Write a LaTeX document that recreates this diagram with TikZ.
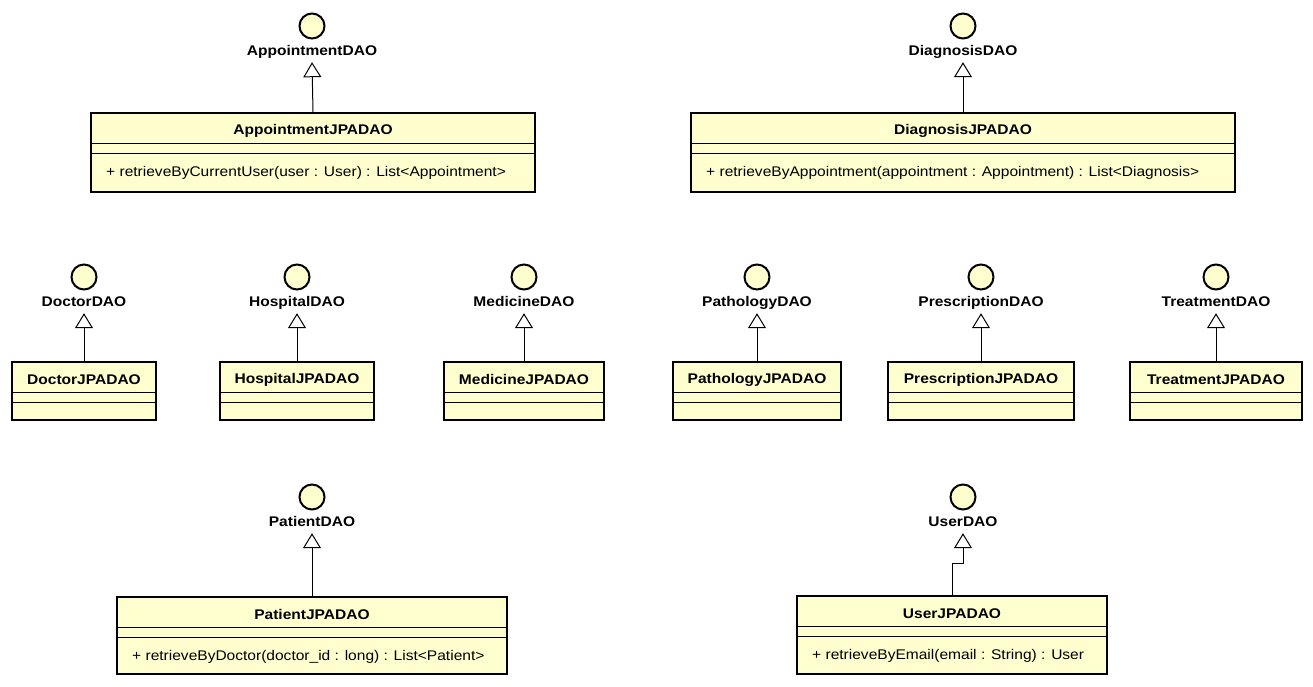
\documentclass[tikz,border=0pt]{standalone}
\usepackage{fontspec}
\setmainfont{Liberation Sans}[FakeStretch=1.11]
\usetikzlibrary{arrows.meta}
\definecolor{umlfill}{HTML}{FEFECE}
\tikzset{
  clsbox/.style={draw=black, fill=umlfill, line width=2.5pt, inner sep=0pt, rectangle},
  ifcircle/.style={draw=black, fill=umlfill, line width=2pt, circle, inner sep=0pt, minimum size=25pt},
  iflabel/.style={font=\fontsize{14}{16}\selectfont\bfseries, inner xsep=0pt, inner ysep=3.5pt, text height=10pt, text depth=3pt},
  clstitle/.style={font=\fontsize{14}{16}\selectfont\bfseries, inner sep=0pt},
  clsmethod/.style={font=\fontsize{14}{16}\selectfont, inner sep=0pt, anchor=west},
  sepline/.style={line width=1pt, draw=black},
  realize/.style={line width=1pt, -{Triangle[open, length=15pt, width=18pt, line width=1pt, fill=white]}},
}
% #1 name, #2 x, #3 circle y, #4 label
\newcommand{\ifacenode}[4]{%
  \node[ifcircle] (#1c) at (#2,#3) {};
  \node[iflabel] (#1) at (#2,#3+26) {#4};
}
% #1 name, #2 left, #3 top, #4 right, #5 bottom, #6 title, #7 method
\newcommand{\jpaclass}[7]{%
  \node[clsbox, minimum width={(#4-#2)*1pt}, minimum height={(#5-#3)*1pt}] (#1) at ({(#2+#4)/2},{(#3+#5)/2}) {};
  \draw[sepline] ([yshift=-32pt]#1.north west) -- ([yshift=-32pt]#1.north east);
  \draw[sepline] ([yshift=-42pt]#1.north west) -- ([yshift=-42pt]#1.north east);
  \node[clstitle] (#1t) at ({(#2+#4)/2},#3+17.5) {#6};
  \node[clsmethod] (#1m) at (#2+15,#3+60) {#7};
}
\begin{document}
\begin{tikzpicture}[x=1pt,y=-1pt]
\useasboundingbox[fill=white] (0,0) rectangle (1313,686);
% row 1
\ifacenode{appI}{312}{26}{AppointmentDAO}
\jpaclass{appC}{91}{113}{535}{192}{AppointmentJPADAO}{+ retrieveByCurrentUser(user : User) : List<Appointment>}
\ifacenode{diaI}{963}{26}{DiagnosisDAO}
\jpaclass{diaC}{691}{113}{1235}{192}{DiagnosisJPADAO}{+ retrieveByAppointment(appointment : Appointment) : List<Diagnosis>}
% row 2
\ifacenode{docI}{84}{277}{DoctorDAO}
\jpaclass{docC}{12}{362}{156}{420}{DoctorJPADAO}{}
\ifacenode{hosI}{297}{277}{HospitalDAO}
\jpaclass{hosC}{220}{362}{374}{420}{HospitalJPADAO}{}
\ifacenode{medI}{524}{277}{MedicineDAO}
\jpaclass{medC}{444}{362}{604}{420}{MedicineJPADAO}{}
\ifacenode{patI}{757}{277}{PathologyDAO}
\jpaclass{patC}{673}{362}{841}{420}{PathologyJPADAO}{}
\ifacenode{preI}{981}{277}{PrescriptionDAO}
\jpaclass{preC}{888}{362}{1074}{420}{PrescriptionJPADAO}{}
\ifacenode{treI}{1216}{277}{TreatmentDAO}
\jpaclass{treC}{1130}{362}{1302}{420}{TreatmentJPADAO}{}
% row 3
\ifacenode{pntI}{312}{497}{PatientDAO}
\jpaclass{pntC}{117}{597}{507}{674}{PatientJPADAO}{+ retrieveByDoctor(doctor\_id : long) : List<Patient>}
\ifacenode{usrI}{963}{497}{UserDAO}
\jpaclass{usrC}{797}{596}{1107}{674}{UserJPADAO}{+ retrieveByEmail(email : String) : User}
% realizations
\draw[realize] (appC.north) -- (appI.south);
\draw[realize] (diaC.north) -- (diaI.south);
\draw[realize] (docC.north) -- (docI.south);
\draw[realize] (hosC.north) -- (hosI.south);
\draw[realize] (medC.north) -- (medI.south);
\draw[realize] (patC.north) -- (patI.south);
\draw[realize] (preC.north) -- (preI.south);
\draw[realize] (treC.north) -- (treI.south);
\draw[realize] (pntC.north) -- (pntI.south);
\coordinate (usrBend) at (963,563);
\draw[realize] (usrC.north) |- (usrBend) -- (usrI.south);
\end{tikzpicture}
\end{document}
